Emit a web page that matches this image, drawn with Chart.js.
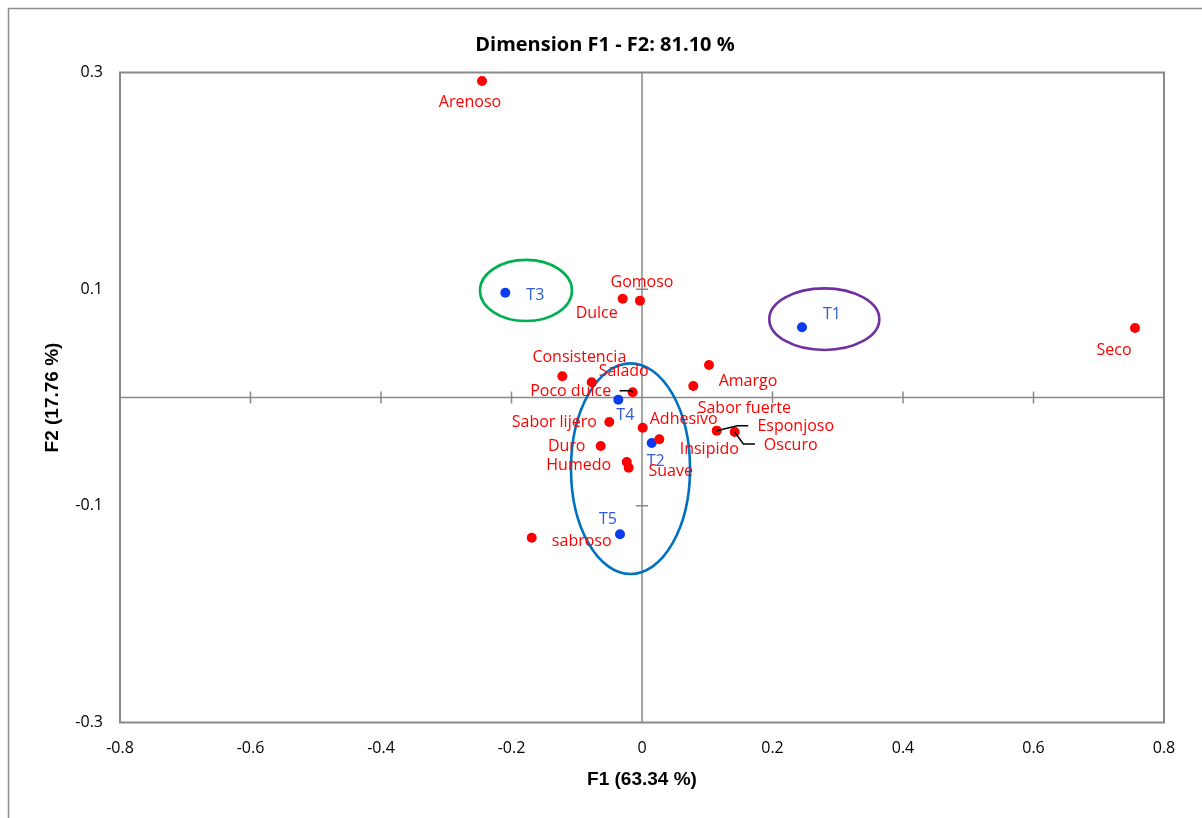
<!DOCTYPE html>
<html>
<head>
<meta charset="utf-8">
<script src="https://cdn.jsdelivr.net/npm/chart.js@4/dist/chart.umd.min.js"></script>
<style>
  html, body { margin: 0; padding: 0; background: #fff; }
  canvas { display: block; }
</style>
</head>
<body>
<canvas id="biplot" width="1202" height="818"></canvas>
<script>
// Attributes (red points)
const attrNames = ['Arenoso', 'Gomoso', 'Dulce', 'Consistencia', 'Salado', 'Poco dulce', 'Sabor lijero', 'Adhesivo',
    'Duro', 'Humedo', 'Suave', 'Insipido', 'Amargo', 'Sabor fuerte', 'Esponjoso', 'Oscuro', 'Seco', 'sabroso'];
const attrX = [-0.2452, -0.0031, -0.0296, -0.1221, -0.0771, -0.0143, -0.0501, 0.0011,
    -0.0633, -0.0234, -0.0204, 0.0265, 0.1027, 0.0786, 0.1145, 0.1421, 0.7556, -0.1690];
const attrY = [0.2922, 0.0894, 0.0912, 0.0196, 0.0140, 0.0048, -0.0226, -0.0279,
    -0.0448, -0.0595, -0.0648, -0.0386, 0.0300, 0.0106, -0.0306, -0.0318, 0.0642, -0.1294];

// Treatments (blue points)
const obsNames = ['T1', 'T2', 'T3', 'T4', 'T5'];
const obsX = [0.2452, 0.0149, -0.2095, -0.0363, -0.0337];
const obsY = [0.0648, -0.0420, 0.0967, -0.0020, -0.1263];

// Group ellipses (centre and radii in axis units)
const ellipseCx = [-0.1778, 0.2794, -0.0176];
const ellipseCy = [0.0988, 0.0723, -0.0657];
const ellipseRx = [0.0705, 0.0843, 0.0912];
const ellipseRy = [0.0282, 0.0284, 0.0972];
const ellipseColors = ['#00B050', '#7030A0', '#0070C0'];

// Tick labels
const xTicks = [-0.8, -0.6, -0.4, -0.2, 0, 0.2, 0.4, 0.6, 0.8];
const yTicks = [-0.3, -0.1, 0.1, 0.3];
const yInnerTicks = [-0.1, 0.1];

// Label placement (pixel offsets from the point: centre x, baseline y)
const attrLabelDx = [-12, 2, -26, 17, 32, -62, -55, 41, -34, -48, 42, 50, 39, 51, 79, 56, -21, 50];
const attrLabelDy = [26, -14, 19, -14, -6, 4, 5, -4, 5, 8, 8, 15, 21, 27, 0, 18, 27, 8];
const obsLabelDx = [30, 4, 30, 7, -12];
const obsLabelDy = [-8, 23, 7, 20, -10];
// leader lines (index into attributes -> polyline offsets)
const leaders = {
    5: [[-13, -1.5], [-1, -1.5], [0, 0]],
    14: [[0, 0], [20.6, -5], [31.6, -5]],
    15: [[0, 0], [8.6, 12], [20.3, 12]]
};

const AXIS_GREY = '#898989';
const LABEL_FONT = '16px "Open Sans", sans-serif';

const biplotDecor = {
    id: 'biplotDecor',
    beforeDraw(chart) {
        const ctx = chart.ctx;
        ctx.save();
        ctx.fillStyle = '#fff';
        ctx.fillRect(0, 0, chart.width, chart.height);
        ctx.strokeStyle = '#8c8c8c';
        ctx.lineWidth = 1.5;
        ctx.strokeRect(8.5, 8.5, chart.width + 50, chart.height + 50);
        ctx.restore();
    },
    beforeDatasetsDraw(chart) {
        const { ctx, chartArea: a, scales: { x, y } } = chart;
        ctx.save();
        // frame
        ctx.strokeStyle = AXIS_GREY;
        ctx.lineWidth = 2;
        ctx.strokeRect(a.left, a.top, a.right - a.left, a.bottom - a.top);
        // zero axes
        const x0 = x.getPixelForValue(0), y0 = y.getPixelForValue(0);
        ctx.lineWidth = 1.5;
        ctx.beginPath();
        ctx.moveTo(a.left, y0); ctx.lineTo(a.right, y0);
        ctx.moveTo(x0, a.top); ctx.lineTo(x0, a.bottom);
        xTicks.forEach(v => {
            if (v === 0 || Math.abs(v) === 0.8) return;
            const px = x.getPixelForValue(v);
            ctx.moveTo(px, y0 - 6); ctx.lineTo(px, y0 + 6);
        });
        yInnerTicks.forEach(v => {
            const py = y.getPixelForValue(v);
            ctx.moveTo(x0 - 6, py); ctx.lineTo(x0 + 6, py);
        });
        ctx.stroke();
        // ellipses
        ctx.lineWidth = 2.6;
        ellipseCx.forEach((cx, i) => {
            const px = x.getPixelForValue(cx), py = y.getPixelForValue(ellipseCy[i]);
            const rx = Math.abs(x.getPixelForValue(cx + ellipseRx[i]) - px);
            const ry = Math.abs(y.getPixelForValue(ellipseCy[i] + ellipseRy[i]) - py);
            ctx.strokeStyle = ellipseColors[i];
            ctx.beginPath();
            ctx.ellipse(px, py, rx, ry, 0, 0, Math.PI * 2);
            ctx.stroke();
        });
        ctx.restore();
    },
    afterDatasetsDraw(chart) {
        const ctx = chart.ctx;
        ctx.save();
        ctx.font = LABEL_FONT;
        ctx.textAlign = 'center';
        ctx.textBaseline = 'alphabetic';

        const attrPts = chart.getDatasetMeta(0).data;
        // leader lines
        ctx.strokeStyle = '#000';
        ctx.lineWidth = 1.5;
        Object.keys(leaders).forEach(k => {
            const p = attrPts[k];
            ctx.beginPath();
            leaders[k].forEach(([dx, dy], j) => {
                if (j === 0) ctx.moveTo(p.x + dx, p.y + dy);
                else ctx.lineTo(p.x + dx, p.y + dy);
            });
            ctx.stroke();
        });

        ctx.fillStyle = '#FF0000';
        attrPts.forEach((p, i) => {
            ctx.fillText(attrNames[i], p.x + attrLabelDx[i], p.y + attrLabelDy[i]);
        });
        ctx.fillStyle = '#2E5BDB';
        chart.getDatasetMeta(1).data.forEach((p, i) => {
            ctx.fillText(obsNames[i], p.x + obsLabelDx[i], p.y + obsLabelDy[i]);
        });

        // chart title
        ctx.fillStyle = '#000';
        ctx.font = 'bold 20px "Open Sans", sans-serif';
        ctx.textBaseline = 'middle';
        ctx.fillText('Dimension F1 - F2: 81.10 %', 605, 45);
        ctx.restore();
    }
};

const ctx = document.getElementById('biplot').getContext('2d');

new Chart(ctx, {
    type: 'scatter',
    data: {
        datasets: [{
            label: 'Attributes',
            data: attrX.map((v, i) => ({ x: v, y: attrY[i] })),
            backgroundColor: '#FF0000',
            borderWidth: 0,
            pointRadius: 5,
            pointHoverRadius: 5
        }, {
            label: 'Treatments',
            data: obsX.map((v, i) => ({ x: v, y: obsY[i] })),
            backgroundColor: '#0A3BEF',
            borderWidth: 0,
            pointRadius: 5,
            pointHoverRadius: 5
        }]
    },
    options: {
        responsive: false,
        animation: false,
        devicePixelRatio: 1,
        layout: { padding: { top: 72.5, right: 38, bottom: 0, left: 0 } },
        plugins: {
            legend: { display: false },
            tooltip: { enabled: false },
            title: { display: false }
        },
        scales: {
            x: {
                type: 'linear',
                min: -0.8,
                max: 0.8,
                grid: { display: false, drawTicks: false },
                border: { display: false },
                afterBuildTicks: s => { s.ticks = xTicks.map(v => ({ value: v })); },
                afterFit: s => { s.height = 95.5; },
                ticks: {
                    color: '#000',
                    padding: 16,
                    maxRotation: 0,
                    font: { family: '"Open Sans", sans-serif', size: 16 },
                    callback: v => String(Math.round(v * 10) / 10)
                },
                title: {
                    display: true,
                    text: 'F1 (63.34 %)',
                    color: '#000',
                    font: { family: '"Liberation Sans", Arial, sans-serif', size: 19, weight: 'bold' },
                    padding: { top: 0, bottom: 26.6 }
                }
            },
            y: {
                type: 'linear',
                min: -0.3,
                max: 0.3,
                grid: { display: false, drawTicks: false },
                border: { display: false },
                afterBuildTicks: s => { s.ticks = yTicks.map(v => ({ value: v })); },
                afterFit: s => { s.width = 120; },
                ticks: {
                    color: '#000',
                    padding: 17,
                    font: { family: '"Open Sans", sans-serif', size: 16 },
                    callback: v => String(Math.round(v * 10) / 10)
                },
                title: {
                    display: true,
                    text: 'F2 (17.76 %)',
                    color: '#000',
                    font: { family: '"Liberation Sans", Arial, sans-serif', size: 19, weight: 'bold' },
                    padding: { top: 41.6, bottom: 0 }
                }
            }
        }
    },
    plugins: [biplotDecor]
});
</script>
</body>
</html>
